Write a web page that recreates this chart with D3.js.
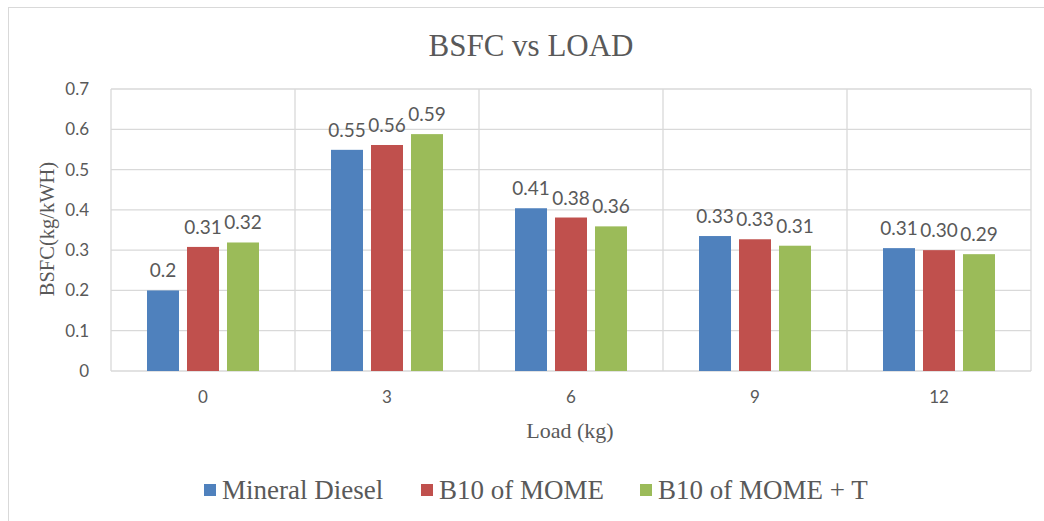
<!DOCTYPE html>
<html><head><meta charset="utf-8">
<script src="https://cdn.jsdelivr.net/npm/d3@7"></script>
<style>body{margin:0;background:#fff;}svg{display:block;}</style>
</head><body>
<svg id="c" width="1044" height="521"></svg>
<script>
const categories = ["0","3","6","9","12"];
const seriesNames = ["Mineral Diesel","B10 of MOME","B10 of MOME + T"];
const mineralDiesel = [0.20,0.549,0.404,0.335,0.305];
const b10Mome = [0.308,0.561,0.381,0.327,0.300];
const b10MomeT = [0.319,0.588,0.359,0.311,0.290];
const labelsMineral = ["0.2","0.55","0.41","0.33","0.31"];
const labelsMome = ["0.31","0.56","0.38","0.33","0.30"];
const labelsMomeT = ["0.32","0.59","0.36","0.31","0.29"];
const yTicks = [0,0.1,0.2,0.3,0.4,0.5,0.6,0.7];
const colors = ["#4f81bd","#c0504d","#9bbb59"];

const seriesVals = [mineralDiesel,b10Mome,b10MomeT];
const seriesLabels = [labelsMineral,labelsMome,labelsMomeT];

const svg = d3.select("#c");
const L=111,R=1031,T=89,B=371;

// frame
svg.append("rect").attr("x",8.5).attr("y",7.5).attr("width",1060).attr("height",540)
  .attr("fill","none").attr("stroke","#d9d9d9");

const x0 = d3.scaleBand().domain(categories).range([L,R]).padding(0);
const x1 = d3.scaleBand().domain(d3.range(3)).range([36, x0.bandwidth()-36]).paddingInner(0.2).paddingOuter(0);
const y = d3.scaleLinear().domain([0,0.7]).range([B,T]);

// horizontal grid
svg.append("g").selectAll("line").data(yTicks).join("line")
  .attr("x1",L).attr("x2",R).attr("y1",d=>y(d)).attr("y2",d=>y(d))
  .attr("stroke","#d9d9d9").attr("stroke-width",1.3);
// vertical grid at category boundaries
const bounds = categories.map(c=>x0(c)).concat([R]);
svg.append("g").selectAll("line").data(bounds).join("line")
  .attr("x1",d=>d).attr("x2",d=>d).attr("y1",T).attr("y2",B)
  .attr("stroke","#d9d9d9").attr("stroke-width",1.3);

// y tick labels
svg.append("g").selectAll("text").data(yTicks).join("text")
  .attr("x",89).attr("y",d=>y(d)).attr("dy","0.35em").attr("text-anchor","end")
  .attr("font-family","Lato, 'Open Sans', sans-serif").attr("font-size",17).attr("fill","#595959")
  .text(d=>d3.format(".1~f")(d));

// x tick labels
svg.append("g").selectAll("text").data(categories).join("text")
  .attr("x",d=>x0(d)+x0.bandwidth()/2).attr("y",403).attr("text-anchor","middle")
  .attr("font-family","Lato, 'Open Sans', sans-serif").attr("font-size",17).attr("fill","#595959")
  .text(d=>d);

// bars
const groups = svg.append("g").selectAll("g").data(categories).join("g")
  .attr("transform",d=>`translate(${x0(d)},0)`);
groups.selectAll("rect").data((d,i)=>seriesVals.map((s,k)=>({k,v:s[i]}))).join("rect")
  .attr("x",d=>x1(d.k)).attr("width",x1.bandwidth())
  .attr("y",d=>y(d.v)).attr("height",d=>B-y(d.v))
  .attr("fill",d=>colors[d.k]);
groups.selectAll("text").data((d,i)=>seriesVals.map((s,k)=>({k,v:s[i],t:seriesLabels[k][i]}))).join("text")
  .attr("x",d=>x1(d.k)+x1.bandwidth()/2).attr("y",d=>y(d.v)-13).attr("text-anchor","middle")
  .attr("font-family","Lato, 'Open Sans', sans-serif").attr("font-size",19).attr("fill","#595959")
  .text(d=>d.t);

// title
svg.append("text").attr("x",531).attr("y",56).attr("text-anchor","middle")
  .attr("font-family","'Liberation Serif','DejaVu Serif',serif").attr("font-size",31).attr("fill","#595959")
  .text("BSFC vs LOAD");
// axis titles
svg.append("text").attr("transform","translate(54,229) rotate(-90)").attr("text-anchor","middle")
  .attr("font-family","'Liberation Serif',serif").attr("font-size",20.5).attr("fill","#595959")
  .text("BSFC(kg/kWH)");
svg.append("text").attr("x",570).attr("y",438).attr("text-anchor","middle")
  .attr("font-family","'Liberation Serif',serif").attr("font-size",22).attr("fill","#595959")
  .text("Load (kg)");

// legend
const legX = [204,421,640];
const leg = svg.append("g").selectAll("g").data(seriesNames).join("g")
  .attr("transform",(d,i)=>`translate(${legX[i]},0)`);
leg.append("rect").attr("x",0).attr("y",484).attr("width",12).attr("height",12).attr("fill",(d,i)=>colors[i]);
leg.append("text").attr("x",18).attr("y",499)
  .attr("font-family","'Liberation Serif',serif").attr("font-size",27).attr("fill","#595959")
  .text(d=>d);
</script>
</body></html>
